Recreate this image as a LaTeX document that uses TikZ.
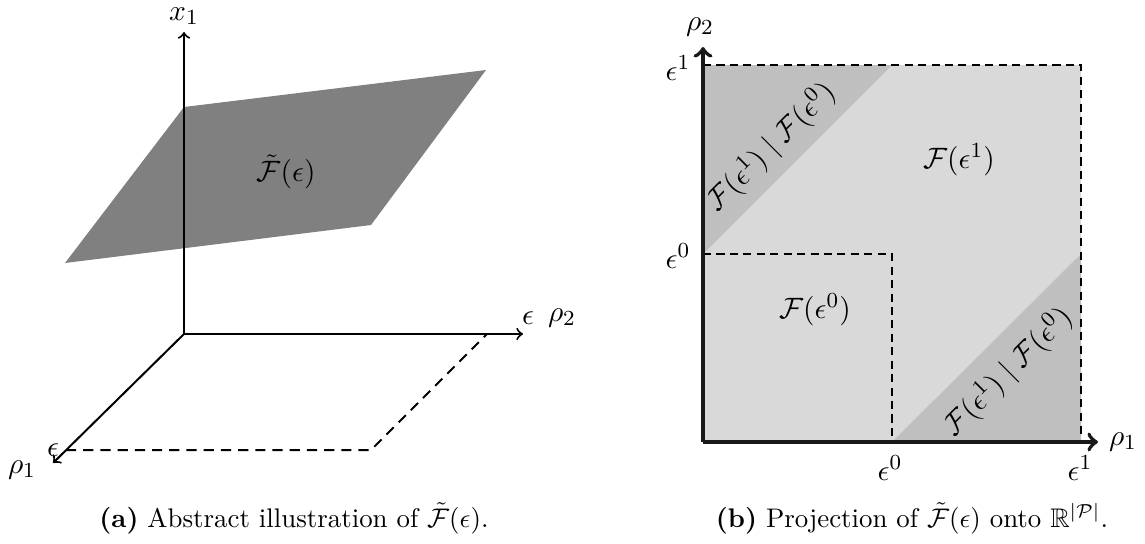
\documentclass[tikz,border=0pt]{standalone}
\usepackage{amsmath,amssymb}
\begin{document}
\begin{tikzpicture}[x=0.372pt,y=-0.372pt,
  lbl/.style={font=\fontsize{10.95}{13}\selectfont, inner sep=0pt},
  capt/.style={font=\fontsize{10}{12}\selectfont, inner sep=0pt},
  axisA/.style={line width=0.75pt, ->},
  axisB/.style={line width=1.5pt, draw=black!90, ->},
  dashA/.style={line width=0.75pt, dash pattern=on 3.8pt off 2.6pt},
  dashB/.style={line width=0.8pt, dash pattern=on 3pt off 2pt},
  plane/.style={fill=black!50},
  lightfill/.style={fill=black!15},
  darkfill/.style={fill=black!25}]
\useasboundingbox (0,0) rectangle (1145,543);

% ---------- left panel ----------
\coordinate (O) at (184,334);
\coordinate (X1) at (184,32);
\coordinate (P2) at (523,334);
\coordinate (P1) at (53,463);
\coordinate (E1) at (66,450);
\coordinate (C) at (371,450);
\coordinate (E2) at (487,334);
\coordinate (PA) at (184,107);
\coordinate (PB) at (486,70);
\coordinate (PC) at (371,225);
\coordinate (PD) at (65,263);

\fill[plane] (PA) -- (PB) -- (PC) -- (PD) -- cycle;
\node[lbl] (Ft) at (286,172) {$\tilde{\mathcal{F}}(\epsilon)$};

\draw[dashA] (E1) -- (C) -- (E2);
\draw[axisA] (O) -- (X1);
\draw[axisA] (O) -- (P2);
\draw[axisA] (O) -- (P1);

\node[lbl] (x1) at (184,16) {$x_1$};
\node[lbl] (eps2) at (528,318) {$\epsilon$};
\node[lbl] (rho2) at (562,318) {$\rho_2$};
\node[lbl] (eps1) at (53,450) {$\epsilon$};
\node[lbl] (rho1) at (22,470) {$\rho_1$};

% ---------- right panel ----------
\coordinate (Q) at (703,442);
\coordinate (QTR) at (1081,65);
\coordinate (QTL) at (703,65);
\coordinate (QBR) at (1081,442);
\coordinate (Q0y) at (703,254);
\coordinate (Q0x) at (892,442);
\coordinate (Q00) at (892,254);
\coordinate (Q1top) at (892,65);
\coordinate (Q1right) at (1081,254);
\coordinate (Rtip2) at (703,47);
\coordinate (Rtip1) at (1098,442);

\fill[lightfill] (Q) rectangle (QTR);
\fill[darkfill] (Q0y) -- (QTL) -- (Q1top) -- cycle;
\fill[darkfill] (Q0x) -- (QBR) -- (Q1right) -- cycle;

\draw[dashB] (QTL) -- (QTR) -- (QBR);
\draw[dashB] (Q0y) -- (Q00) -- (Q0x);

\draw[axisB] (Q) -- (Rtip1);
\draw[axisB] (Q) -- (Rtip2);

\node[lbl] (r2) at (700,27) {$\rho_2$};
\node[lbl] (r1) at (1123,442) {$\rho_1$};
\node[lbl] (ey1) at (678,68) {$\epsilon^1$};
\node[lbl] (ey0) at (678,256) {$\epsilon^0$};
\node[lbl] (ex0) at (890,468) {$\epsilon^0$};
\node[lbl] (ex1) at (1080,468) {$\epsilon^1$};

\node[lbl] (F1) at (959,160) {$\mathcal{F}(\epsilon^1)$};
\node[lbl] (F0) at (815,310) {$\mathcal{F}(\epsilon^0)$};
\node[lbl, rotate=45] (D1) at (771,147) {$\mathcal{F}(\epsilon^1)\mid\mathcal{F}(\epsilon^0)$};
\node[lbl, rotate=45] (D2) at (1008,372) {$\mathcal{F}(\epsilon^1)\mid\mathcal{F}(\epsilon^0)$};

% ---------- captions ----------
\node[capt] (capA) at (294,518) {\textbf{(a)} Abstract illustration of $\tilde{\mathcal{F}}(\epsilon)$.};
\node[capt] (capB) at (912,518) {\textbf{(b)} Projection of $\tilde{\mathcal{F}}(\epsilon)$ onto $\mathbb{R}^{|\mathcal{P}|}$.};
\end{tikzpicture}
\end{document}
